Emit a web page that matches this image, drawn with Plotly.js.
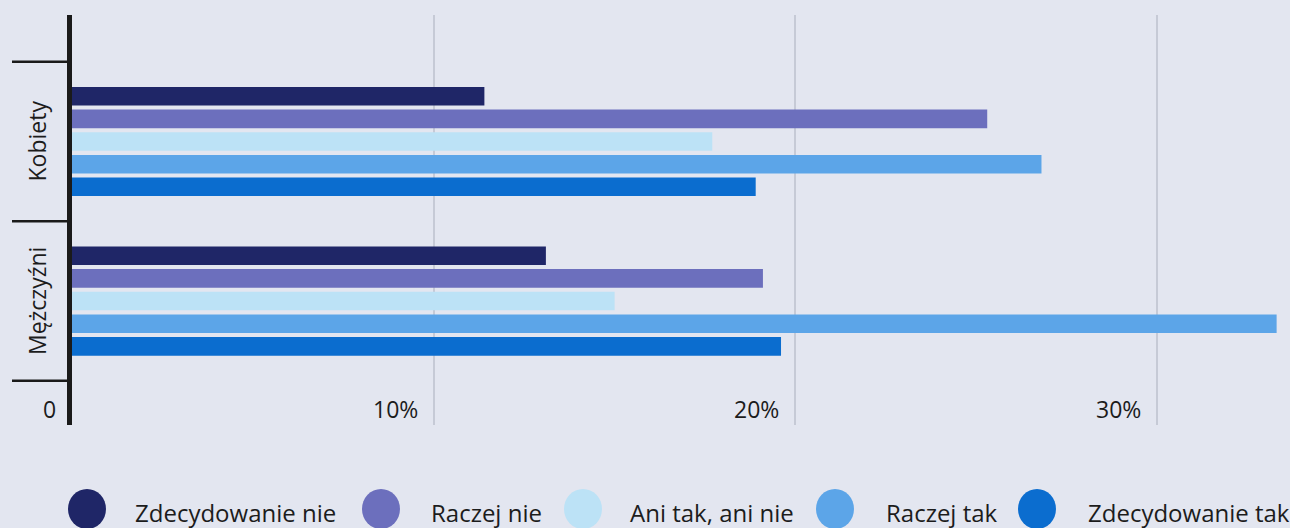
<!DOCTYPE html>
<html>
<head>
<meta charset="utf-8">
<script src="https://cdn.plot.ly/plotly-3.0.1.min.js"></script>
<style>
  html, body { margin: 0; padding: 0; background: #e3e6f0; }
  #chart { width: 1290px; height: 528px; }
</style>
</head>
<body>
<div id="chart"></div>
<script>
// ---- data ----
const categories = ['Kobiety', 'Mężczyźni'];
const seriesNames = ['Zdecydowanie nie', 'Raczej nie', 'Ani tak, ani nie', 'Raczej tak', 'Zdecydowanie tak'];
const zdecydowanieNie = [11.4, 13.1];
const raczejNie = [25.3, 19.1];
const aniTakAniNie = [17.7, 15.0];
const raczejTak = [26.8, 33.3];
const zdecydowanieTak = [18.9, 19.6];
const tickValues = [0, 10, 20, 30];
const tickLabels = ['0', '10%', '20%', '30%'];

const seriesValues = [zdecydowanieNie, raczejNie, aniTakAniNie, raczejTak, zdecydowanieTak];
const colors = ['#1f2667', '#6c6fbd', '#bce2f6', '#5ca5e8', '#0b6dcf'];

// ---- geometry helpers (plot area: x 72..1290, y 15..425) ----
const L = 72, R = 0, T = 15, B = 103, W = 1290, H = 528;
const pw = W - L - R, ph = H - T - B;
const px = x => (x - L) / pw;
const py = y => (H - B - y) / ph;

const FONT = 'Open Sans, Noto Sans, sans-serif';
const TXT = '#1c1c1c';

const traces = seriesNames.map((name, i) => ({
  type: 'bar',
  orientation: 'h',
  name: name,
  y: categories,
  x: seriesValues[i],
  marker: { color: colors[i], line: { width: 0 } },
  hoverinfo: 'x+y+name',
  showlegend: false
}));

const shapes = [];
const annotations = [];

// group divider ticks on the category axis
[-0.5, 0.5, 1.5].forEach(v => {
  shapes.push({
    type: 'line', xref: 'paper', yref: 'y',
    x0: px(12), x1: px(68), y0: v, y1: v,
    line: { color: '#1a1a1a', width: 2.5 }
  });
});

// category labels (rotated)
categories.forEach((c, i) => {
  annotations.push({
    text: c, xref: 'paper', yref: 'y', x: px(37), y: i,
    textangle: -90, showarrow: false, xanchor: 'center', yanchor: 'middle',
    font: { family: FONT, size: 23, color: TXT }
  });
});

// value tick labels, to the left of each gridline
tickValues.forEach((v, i) => {
  annotations.push({
    text: tickLabels[i], xref: 'x', yref: 'paper', x: v, y: py(409),
    xanchor: 'right', yanchor: 'middle', xshift: -14, showarrow: false,
    font: { family: FONT, size: 23, color: TXT }
  });
});

// custom legend with large round markers
const legCircle = [87, 381, 583, 835, 1037];
const legText = [133, 429, 628, 884, 1086];
seriesNames.forEach((n, i) => {
  shapes.push({
    type: 'circle', xref: 'paper', yref: 'paper',
    x0: px(legCircle[i] - 19), x1: px(legCircle[i] + 19),
    y0: py(529), y1: py(489),
    fillcolor: colors[i], line: { width: 0 }
  });
  annotations.push({
    text: n, xref: 'paper', yref: 'paper', x: px(legText[i]), y: py(512),
    xanchor: 'left', yanchor: 'middle', showarrow: false,
    font: { family: FONT, size: 24, color: TXT }
  });
});

const layout = {
  width: W, height: H,
  margin: { l: L, r: R, t: T, b: B, pad: 0 },
  paper_bgcolor: '#e3e6f0',
  plot_bgcolor: '#e3e6f0',
  font: { family: FONT, color: TXT },
  barmode: 'group',
  bargap: 0.29,
  bargroupgap: 0.18,
  showlegend: false,
  xaxis: {
    range: [0, 33.67],
    tickvals: tickValues.slice(1),
    showticklabels: false,
    ticks: '',
    showgrid: true, gridcolor: '#c6cad6', gridwidth: 2,
    zeroline: false, showline: false, fixedrange: true
  },
  yaxis: {
    type: 'category',
    range: [1.777, -0.793],
    showticklabels: false,
    ticks: '',
    showgrid: false, zeroline: false,
    showline: true, linewidth: 5, linecolor: '#1a1a1a',
    fixedrange: true
  },
  shapes: shapes,
  annotations: annotations
};

Plotly.newPlot('chart', traces, layout, { displayModeBar: false, staticPlot: true });
</script>
</body>
</html>
